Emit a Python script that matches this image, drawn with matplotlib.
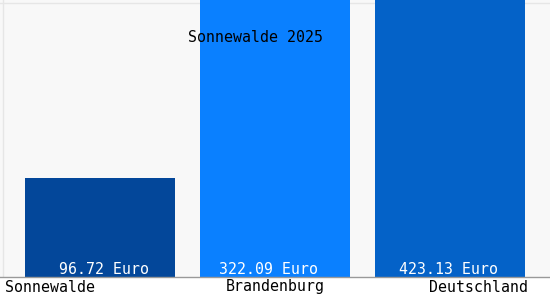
import matplotlib
matplotlib.use("Agg")
import matplotlib.pyplot as plt

# data
regions = ["Sonnewalde", "Brandenburg", "Deutschland"]
values = [96.72, 322.09, 423.13]
title = "Sonnewalde 2025"
colors = ["#03479a", "#0a80ff", "#0462c8"]

plt.rcParams['font.family'] = ['DejaVu Sans Mono']

fig = plt.figure(figsize=(5.5, 3), dpi=100)
fig.patch.set_facecolor("white")
ax = fig.add_axes([0, 23/300, 1, 277/300])
ax.set_facecolor("#f8f8f8")

x = list(range(len(regions)))
ax.bar(x, values, width=150/175, color=colors, zorder=2)
ax.set_xlim(-100/175, 450/175)
ax.set_ylim(0, 270.6)

# value labels sit a little off-centre in the original
shift = [4.5, -6.5, -1.5]
for xi, v, dx in zip(x, values, shift):
    ax.annotate(f"{v:.2f} Euro", (xi, 0), xytext=(dx * 0.72, 0), textcoords="offset points",
                ha="center", va="bottom", color="white", fontsize=10.7, zorder=3)

for s in ["top", "left", "right"]:
    ax.spines[s].set_visible(False)
ax.spines["bottom"].set_color("#999999")
ax.spines["bottom"].set_linewidth(1)
ax.set_xticks([])
ax.set_yticks([])

# faint frame lines behind the bars
ax.plot([0, 1], [1 - 3/277, 1 - 3/277], transform=ax.transAxes, color="#e6e6e6", lw=1, zorder=1)
ax.plot([3/550, 3/550], [0, 1], transform=ax.transAxes, color="#e6e6e6", lw=1, zorder=1)
ax.plot([0, 1], [0, 0], transform=fig.transFigure, color="#e6e6e6", lw=1)

# category labels below the axis
fig.text(5/550, 1 - 287/300, regions[0], ha="left", va="center", fontsize=10.7)
fig.text(275/550, 1 - 287/300, regions[1], ha="center", va="center", fontsize=10.7)
fig.text(528/550, 1 - 287/300, regions[2], ha="right", va="center", fontsize=10.7)

fig.text(256/550, 1 - 38/300, title, ha="center", va="center", fontsize=10.7, zorder=5)

fig.savefig("out.png", dpi=100)
